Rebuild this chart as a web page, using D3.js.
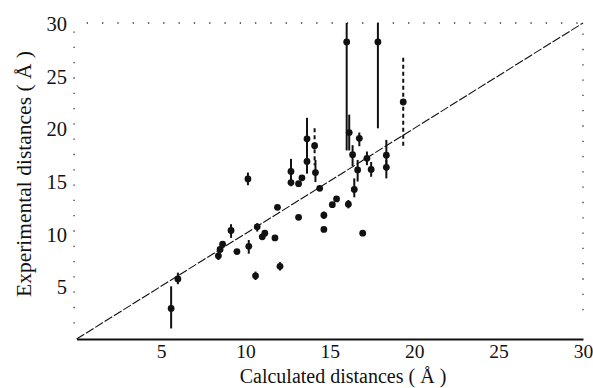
<html>
<head>
<style>
    body { margin: 0; background: #fff; }
    text { font-family: "Liberation Serif", "DejaVu Serif", serif; fill: #111; }
</style>
</head>
<body>
<svg id="chart" width="593" height="388"></svg>
<script src="https://d3js.org/d3.v7.min.js"></script>
<script>
// calculated distance, experimental distance, error bar low/high
const calcDist = [5.6, 6.0, 8.4, 8.5, 8.65, 9.15, 9.5, 10.2, 10.15, 10.6, 10.7, 11.0, 11.15, 11.75, 11.9,
    12.05, 12.7, 12.7, 13.15, 13.35, 13.15, 13.65, 13.65, 14.1, 14.15, 14.4, 14.65, 14.65, 15.15, 15.4,
    16.1, 16.0, 16.15, 16.35, 16.45, 16.65, 16.75, 16.95, 17.2, 17.45, 17.85, 18.35, 18.35, 19.35]
const expDist = [2.9, 5.7, 7.9, 8.5, 9.0, 10.3, 8.3, 8.8, 15.2, 6.0, 10.65, 9.7, 10.05, 9.6, 12.5,
    6.9, 15.9, 14.85, 14.75, 15.3, 11.55, 19.0, 16.85, 18.35, 15.8, 14.3, 11.75, 10.4, 12.75, 13.3,
    12.8, 28.2, 19.6, 17.5, 14.2, 16.05, 19.05, 10.05, 17.15, 16.1, 28.2, 17.45, 16.3, 22.5]
const errLow = [1.0, 5.2, 7.5, 8.2, 9.0, 9.6, 8.3, 8.1, 14.6, 5.6, 10.2, 9.4, 10.05, 9.6, 12.5,
    6.5, 14.8, 14.5, 14.75, 15.3, 11.55, 16.8, 15.7, 16.5, 14.9, 14.3, 11.4, 10.4, 12.75, 13.3,
    12.4, 17.9, 17.9, 16.4, 13.45, 14.95, 18.3, 10.05, 16.5, 15.4, 20.0, 16.6, 15.25, 18.3]
const errHigh = [5.0, 6.3, 8.3, 8.8, 9.0, 10.9, 8.3, 9.4, 15.8, 6.4, 11.0, 10.0, 10.05, 9.6, 12.5,
    7.3, 17.1, 15.2, 14.75, 15.3, 11.55, 21.0, 17.8, 20.0, 17.0, 14.3, 12.1, 10.4, 12.75, 13.3,
    13.2, 30.2, 21.3, 18.4, 15.25, 17.0, 19.6, 10.05, 17.8, 16.8, 30.2, 18.9, 17.0, 26.7]
const xTicks = [5, 10, 15, 20, 25, 30]
const yTicks = [5, 10, 15, 20, 25, 30]

let svg = d3.select("#chart")

let xScale = d3.scaleLinear().domain([0, 30]).range([76.6, 583])
let yScale = d3.scaleLinear().domain([0, 30]).range([339, 23])

let points = calcDist.map((x, i) => ({ x: x, y: expDist[i], lo: errLow[i], hi: errHigh[i] }))
let dashedBars = [23, 43] // these two bars are printed broken in the original

// faint dotted frame (top, left, right)
let frame = svg.append("g")
    .attr("stroke", "#333")
    .attr("stroke-width", 1.3)
    .attr("stroke-dasharray", "1.3,14")
frame.append("line")
    .attr("x1", xScale(0.6)).attr("x2", xScale(30))
    .attr("y1", yScale(30)).attr("y2", yScale(30))
frame.append("line")
    .attr("x1", xScale(0) - 2.5).attr("x2", xScale(0) - 2.5)
    .attr("y1", yScale(29.2)).attr("y2", yScale(1))
frame.append("line")
    .attr("x1", xScale(30)).attr("x2", xScale(30))
    .attr("y1", yScale(29)).attr("y2", yScale(2))

// bottom axis
let xAxis = svg.append("g")
    .attr("transform", "translate(0," + yScale(0) + ")")
    .call(d3.axisBottom(xScale).tickValues(xTicks).tickSize(0).tickPadding(5))
xAxis.select(".domain").attr("stroke", "#111").attr("stroke-width", 2)
xAxis.selectAll("text").attr("font-size", 19.5).style("font-family", "Liberation Serif").attr("fill", "#111")

// left axis labels only
let yAxis = svg.append("g")
    .attr("transform", "translate(" + (xScale(0) - 2.5) + ",0)")
    .call(d3.axisLeft(yScale).tickValues(yTicks).tickSize(0).tickPadding(7))
yAxis.select(".domain").remove()
yAxis.selectAll("text").attr("font-size", 20.5).attr("dy", "0.36em").style("font-family", "Liberation Serif").attr("fill", "#111")

// y = x line
svg.append("line")
    .attr("x1", xScale(0)).attr("y1", yScale(0))
    .attr("x2", xScale(30)).attr("y2", yScale(30))
    .attr("stroke", "#111")
    .attr("stroke-width", 1.1)
    .attr("stroke-dasharray", "9,2")

// error bars
svg.append("g")
    .selectAll("line")
    .data(points.filter(d => d.hi > d.lo))
    .join("line")
    .attr("x1", d => xScale(d.x)).attr("x2", d => xScale(d.x))
    .attr("y1", d => yScale(Math.min(d.hi, 30))).attr("y2", d => yScale(d.lo))
    .attr("stroke", "#111")
    .attr("stroke-width", 2)
    .attr("stroke-dasharray", d => dashedBars.includes(points.indexOf(d)) ? "4,3" : null)

// points
svg.append("g")
    .selectAll("circle")
    .data(points)
    .join("circle")
    .attr("cx", d => xScale(d.x))
    .attr("cy", d => yScale(d.y))
    .attr("r", 3.4)
    .attr("fill", "#111")

// axis titles
svg.append("text")
    .attr("x", 343)
    .attr("y", 383)
    .attr("text-anchor", "middle")
    .attr("font-size", 20)
    .text("Calculated distances ( Å )")

svg.append("text")
    .attr("transform", "translate(31,174) rotate(-90)")
    .attr("text-anchor", "middle")
    .attr("font-size", 21.5)
    .text("Experimental distances ( Å )")
</script>
</body>
</html>
